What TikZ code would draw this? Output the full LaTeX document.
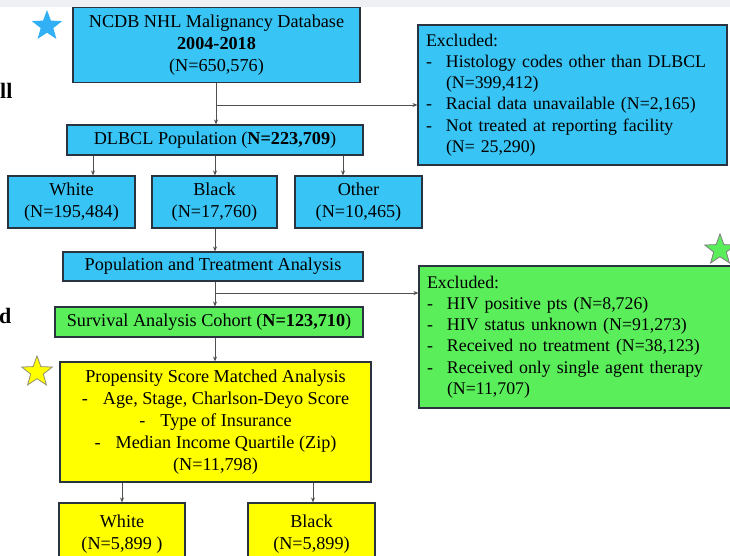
\documentclass[tikz,border=0pt]{standalone}
\usepackage{fontspec}
\setmainfont{Liberation Serif}
\usetikzlibrary{shapes.geometric,arrows.meta}
\definecolor{cblue}{HTML}{38C4F4}
\definecolor{cgreen}{HTML}{5AEE5A}
\definecolor{cyellow}{HTML}{FFFF00}
\definecolor{cedge}{HTML}{2A3340}
\definecolor{cline}{HTML}{505050}
\definecolor{cband}{HTML}{EEF0F3}
\newcommand{\dashitem}{\makebox[20pt][l]{-}}
\newcommand{\contitem}{\hspace*{20pt}}
\tikzset{
  fbox/.style={draw=cedge, line width=1.1pt, inner sep=0pt, align=center,
    font=\fontsize{18.2}{22}\selectfont},
  bluebox/.style={fbox, fill=cblue},
  greenbox/.style={fbox, fill=cgreen},
  yellowbox/.style={fbox, fill=cyellow},
  exbox/.style={fbox, align=left, inner xsep=8pt, font=\fontsize{17.8}{21.2}\selectfont},
  arr/.style={draw=cline, line width=0.9pt, -{Stealth[length=5pt,width=4pt]}},
  starshape/.style={star, star points=5, star point ratio=2.4, minimum size=32pt, inner sep=0pt},
  cut/.style={font=\fontsize{22}{22}\selectfont\bfseries, inner sep=0pt}
}
\begin{document}
\begin{tikzpicture}[x=1pt,y=-1pt]
\clip (0,0) rectangle (730,555);
\fill[white] (0,0) rectangle (730,555);
\fill[cband] (0,0) rectangle (730,7);

% stars
\node[starshape, fill=cblue!90!blue] (sb) at (47,26) {};
\node[starshape, fill=cyellow, draw=gray!80!olive, line width=0.8pt] (sy) at (37,372) {};
\node[starshape, fill=cgreen, draw=gray, line width=0.8pt] (sg) at (720,250) {};

% cut-off texts at left edge
\node[cut, anchor=west] (t1) at (0,91) {ll};
\node[cut, anchor=west] (t2) at (-1,316) {d};

% main boxes
\node[bluebox, minimum width=287pt, minimum height=75pt] (db) at (216.5,45)
  {NCDB NHL Malignancy Database\\ \textbf{2004-2018}\\ (N=650,576)};
\node[bluebox, exbox, text width=293pt, minimum height=140pt] (ex1) at (572.5,95)
  {Excluded:\\
   \dashitem Histology codes other than DLBCL\\
   \contitem (N=399,412)\\
   \dashitem Racial data unavailable (N=2,165)\\
   \dashitem Not treated at reporting facility\\
   \contitem (N= 25,290)};
\node[bluebox, minimum width=296pt, minimum height=30pt] (dl) at (215,140)
  {DLBCL Population (\textbf{N=223,709})};
\node[bluebox, minimum width=127pt, minimum height=52pt] (wh) at (71.5,202)
  {White\\ (N=195,484)};
\node[bluebox, minimum width=125pt, minimum height=52pt] (bl) at (214.5,202)
  {Black\\ (N=17,760)};
\node[bluebox, minimum width=127pt, minimum height=52pt] (ot) at (358.5,202)
  {Other\\ (N=10,465)};
\node[bluebox, minimum width=300pt, minimum height=29pt] (pt) at (213,266.5)
  {Population and Treatment Analysis};
\node[greenbox, minimum width=308pt, minimum height=30pt] (sv) at (209,322)
  {Survival Analysis Cohort (\textbf{N=123,710})};
\node[greenbox, exbox, text width=300pt, minimum height=142pt] (ex2) at (577,337)
  {Excluded:\\
   \dashitem HIV positive pts (N=8,726)\\
   \dashitem HIV status unknown (N=91,273)\\
   \dashitem Received no treatment (N=38,123)\\
   \dashitem Received only single agent therapy\\
   \contitem (N=11,707)};
\node[yellowbox, minimum width=311pt, minimum height=120pt] (ps) at (215.5,422)
  {Propensity Score Matched Analysis\\
   -\hspace{15pt}Age, Stage, Charlson-Deyo Score\\
   -\hspace{15pt}Type of Insurance\\
   -\hspace{15pt}Median Income Quartile (Zip)\\
   (N=11,798)};
\node[yellowbox, minimum width=126pt, minimum height=62pt] (yw) at (122,534)
  {White\\ (N=5,899 )};
\node[yellowbox, minimum width=127pt, minimum height=62pt] (yb) at (311.5,534)
  {Black\\ (N=5,899)};

% helper x positions
\coordinate (x1) at (93,0);
\coordinate (x2) at (215,0);
\coordinate (x3) at (343,0);
\coordinate (x4) at (122,0);
\coordinate (x5) at (313,0);
\coordinate (b1) at (216,105);
\coordinate (b2) at (215,293);

% connectors
\draw[arr] (db.south -| b1) -- (dl.north -| b1);
\draw[arr] (b1) -- (ex1.west |- b1);
\draw[arr] (dl.south -| x1) -- (wh.north -| x1);
\draw[arr] (dl.south -| x2) -- (bl.north -| x2);
\draw[arr] (dl.south -| x3) -- (ot.north -| x3);
\draw[arr] (bl.south -| x2) -- (pt.north -| x2);
\draw[arr] (pt.south -| x2) -- (sv.north -| x2);
\draw[arr] (b2) -- (ex2.west |- b2);
\draw[arr] (sv.south -| x2) -- (ps.north -| x2);
\draw[arr] (ps.south -| x4) -- (yw.north -| x4);
\draw[arr] (ps.south -| x5) -- (yb.north -| x5);
\end{tikzpicture}
\end{document}
